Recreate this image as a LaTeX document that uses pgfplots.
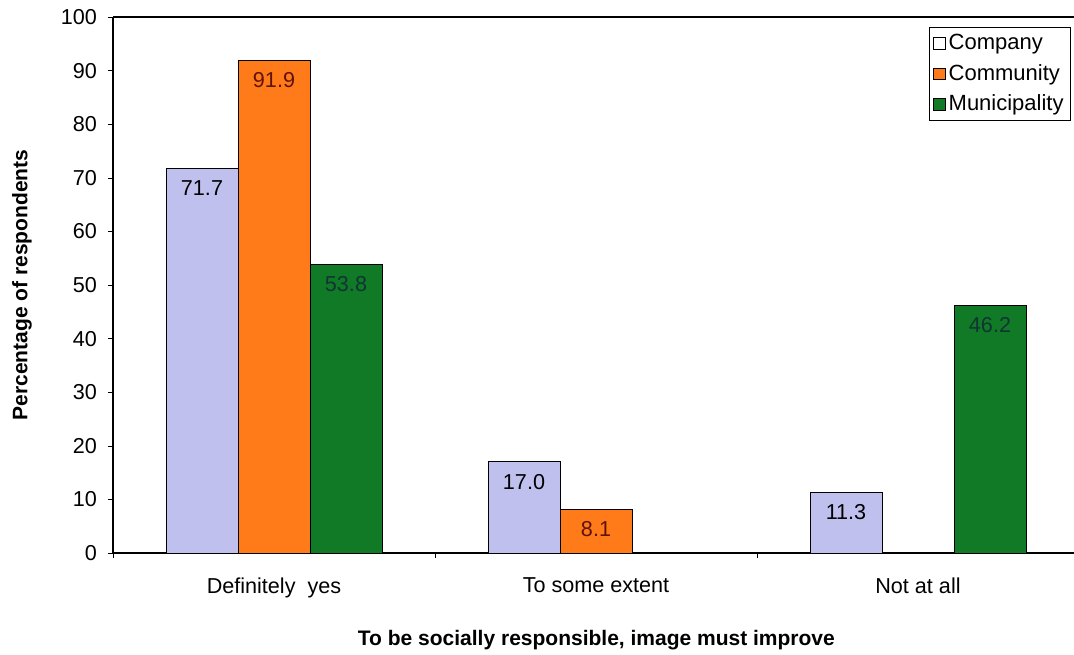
\documentclass[border=0pt]{standalone}
\usepackage{pgfplots}
\pgfplotsset{compat=1.18}
\usepackage{fontspec}
\setmainfont{Liberation Sans}
\definecolor{company}{RGB}{192,192,238}
\definecolor{community}{RGB}{255,122,24}
\definecolor{municipality}{RGB}{16,122,38}
\definecolor{communitytext}{RGB}{95,18,12}
\definecolor{municipalitytext}{RGB}{18,52,52}
\begin{document}
\begin{tikzpicture}
\begin{axis}[
  at={(0,0)}, anchor=south west,
  scale only axis, width=480.5pt, height=268pt,
  xmin=-0.5, xmax=2.4845, ymin=0, ymax=100,
  ybar=0pt, bar width=0.2236,
  axis x line*=bottom, axis y line*=left,
  axis line style={black, line width=0.6pt},
  tick align=outside,
  major tick length=2.5pt, minor tick length=2.5pt,
  ytick={0,10,...,100},
  xtick={0,1,2},
  xticklabels={Definitely\ \ yes, To some extent, Not at all},
  minor xtick={-0.5,0.5,1.5},
  major x tick style={draw=none},
  minor x tick style={black},
  ytick style={black},
  /pgf/number format/assume math mode=true,
  tick label style={font=\fontsize{10.8}{13}\selectfont},
  xticklabel style={yshift=-6.5pt},
  yticklabel style={xshift=-2pt},
  ylabel={Percentage of respondents},
  ylabel style={at={(rel axis cs:-0.0947,0.5)}, anchor=center, font=\bfseries\fontsize{10.5}{12}\selectfont},
  xlabel={To be socially responsible, image must improve},
  xlabel style={at={(rel axis cs:0.503,-0.1623)}, anchor=center, font=\bfseries\fontsize{10.5}{12}\selectfont},
  nodes near coords={\pgfmathprintnumber[fixed,fixed zerofill,precision=1]{\pgfplotspointmeta}},
  nodes near coords align={below},
  every node near coord/.append style={yshift=-2.5pt, font=\fontsize{10.8}{12}\selectfont},
  legend cell align=left,
  legend style={at={(1,1)}, anchor=north east, xshift=-1.5pt, yshift=-5pt,
    font=\fontsize{11}{13}\selectfont, draw=black, inner xsep=2pt, inner ysep=1.5pt,
    row sep=1.8pt, nodes={inner xsep=1.5pt}},
]
\addplot[draw=black, fill=company,
  every node near coord/.append style={text=black},
  legend image code/.code={\draw[draw=black, fill=white] (0pt,-2.9pt) rectangle (5.8pt,2.9pt);}]
  coordinates {(0,71.7) (1,17.0) (2,11.3)};
\addlegendentry{Company}
\addplot[draw=black, fill=community,
  every node near coord/.append style={text=communitytext},
  legend image code/.code={\draw[draw=black, fill=community] (0pt,-2.9pt) rectangle (5.8pt,2.9pt);}]
  coordinates {(0,91.9) (1,8.1)};
\addlegendentry{Community}
\addplot[draw=black, fill=municipality,
  every node near coord/.append style={text=municipalitytext},
  legend image code/.code={\draw[draw=black, fill=municipality] (0pt,-2.9pt) rectangle (5.8pt,2.9pt);}]
  coordinates {(0,53.8) (2,46.2)};
\addlegendentry{Municipality}
% upper frame line of the plot area
\draw[black, line width=0.6pt] (rel axis cs:0,1) -- (rel axis cs:1,1);
\end{axis}
\pgfresetboundingbox
\useasboundingbox (-56.5pt,-50.5pt) rectangle (480.5pt,276.5pt);
\end{tikzpicture}
\end{document}
